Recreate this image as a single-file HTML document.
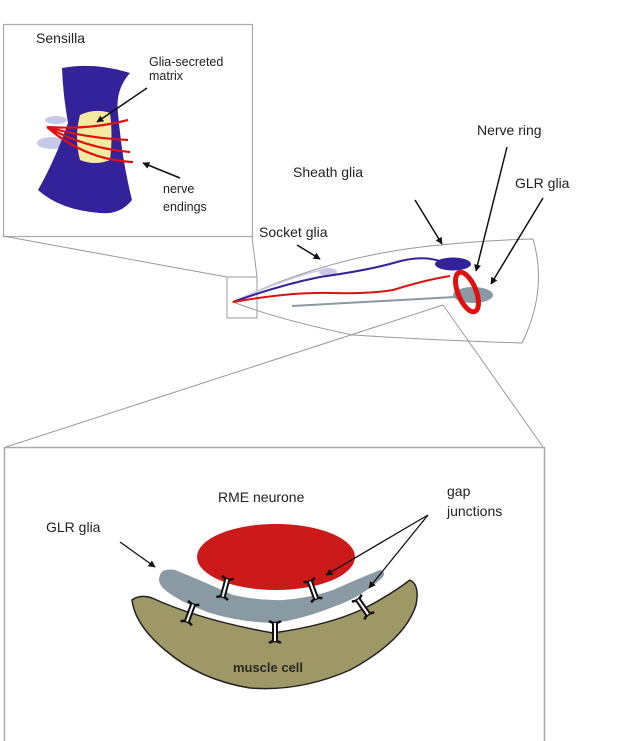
<!DOCTYPE html>
<html><head><meta charset="utf-8"><style>
html,body{margin:0;padding:0;background:#fff;}
svg{display:block;font-family:"Liberation Sans",Arial,sans-serif;}
</style></head><body>
<svg width="633" height="741" viewBox="0 0 633 741" xmlns="http://www.w3.org/2000/svg">
<defs>
<marker id="ah" viewBox="0 0 10 10" refX="9" refY="5" markerWidth="7" markerHeight="7" orient="auto" markerUnits="userSpaceOnUse">
<path d="M0,0 L10,5 L0,10 z" fill="#111"/></marker>
<g id="gj">
<path d="M-6,-11 Q0,-7 6,-11 M-6,11 Q0,7 6,11" stroke="#111" stroke-width="2.5" fill="none"/>
<rect x="-3" y="-9" width="6" height="18" fill="#111"/>
<rect x="-1" y="-9" width="2" height="18" fill="#fff"/>
</g>
</defs>
<!-- top box -->
<rect x="3.5" y="24.5" width="249" height="212" fill="none" stroke="#aaa" stroke-width="1.2"/>
<line x1="3" y1="236" x2="227" y2="277" stroke="#999" stroke-width="1"/>
<line x1="252" y1="237" x2="257" y2="277" stroke="#999" stroke-width="1"/>
<rect x="227" y="277" width="30" height="41" fill="none" stroke="#999" stroke-width="1"/>
<text x="36" y="43" font-size="14" fill="#222">Sensilla</text>
<text x="149" y="66" font-size="12.5" fill="#222">Glia-secreted</text>
<text x="149" y="80" font-size="12.5" fill="#222">matrix</text>
<text x="163" y="193" font-size="12.5" fill="#222">nerve</text>
<text x="163" y="211" font-size="12.5" fill="#222">endings</text>
<ellipse cx="56" cy="120" rx="11" ry="4" fill="#c8c8e8"/>
<ellipse cx="52" cy="143" rx="15" ry="6" fill="#c8c8e8"/>
<path d="M62,68 Q95,62 130,73 Q115,90 118,113 Q122,160 132,200 Q120,215 100,213 Q60,210 38,190 Q55,160 68,123 Q63,95 62,68 Z" fill="#33229a"/>
<path d="M80,115 Q95,108 110,113 Q113,135 110,160 Q95,166 80,160 Q74,138 80,115 Z" fill="#f6eaa0"/>
<g stroke="#e01010" stroke-width="2.2" fill="none">
<path d="M47,127 Q90,130 128,120"/>
<path d="M47,127 Q85,138 128,140"/>
<path d="M47,127 Q85,148 130,152"/>
<path d="M47,127 Q85,160 133,162"/>
</g>
<line x1="147" y1="88" x2="97" y2="122" stroke="#111" stroke-width="1.5" marker-end="url(#ah)"/>
<line x1="180" y1="178" x2="143" y2="163" stroke="#111" stroke-width="1.5" marker-end="url(#ah)"/>
<!-- worm -->
<path d="M233,302 Q330,255 440,245 Q490,240 533,239 Q548,290 522,343 Q430,340 353,335 Q280,320 233,302 Z" fill="none" stroke="#999" stroke-width="1"/>
<path d="M233,302 Q280,280 328,268" fill="none" stroke="#c8c8e8" stroke-width="1.5"/>
<ellipse cx="328" cy="272" rx="9" ry="4" fill="#c8c8e8"/>
<path d="M233,302 Q280,285 320,277 Q370,270 397,262 Q425,254 445,263" fill="none" stroke="#33229a" stroke-width="2"/>
<path d="M233,302 Q290,292 330,293 Q370,294 393,290 Q425,280 450,276" fill="none" stroke="#e01010" stroke-width="2"/>
<line x1="292" y1="306" x2="455" y2="297" stroke="#8a9aa5" stroke-width="2"/>
<ellipse cx="473" cy="295" rx="20" ry="8" fill="#8a9aa5"/>
<ellipse cx="467" cy="292" rx="9" ry="21" transform="rotate(-22 467 292)" fill="none" stroke="#e01010" stroke-width="5"/>
<ellipse cx="453" cy="264" rx="18" ry="6.5" fill="#33229a"/>
<text x="293" y="177" font-size="14" fill="#222">Sheath glia</text>
<text x="477" y="135" font-size="14" fill="#222">Nerve ring</text>
<text x="515" y="188" font-size="14" fill="#222">GLR glia</text>
<text x="259" y="237" font-size="14" fill="#222">Socket glia</text>
<line x1="297" y1="245" x2="320" y2="259" stroke="#111" stroke-width="1.5" marker-end="url(#ah)"/>
<line x1="415" y1="200" x2="442" y2="244" stroke="#111" stroke-width="1.5" marker-end="url(#ah)"/>
<line x1="507" y1="147" x2="476" y2="271" stroke="#111" stroke-width="1.5" marker-end="url(#ah)"/>
<line x1="543" y1="198" x2="491" y2="284" stroke="#111" stroke-width="1.5" marker-end="url(#ah)"/>
<!-- zoom lines -->
<line x1="6" y1="447" x2="443" y2="305" stroke="#999" stroke-width="1"/>
<line x1="443" y1="305" x2="543" y2="447" stroke="#999" stroke-width="1"/>
<!-- bottom box -->
<path d="M4.5,741 L4.5,447.5 L544.5,447.5 L544.5,741" fill="none" stroke="#aaa" stroke-width="1.5"/>
<text x="218" y="502" font-size="14" fill="#222">RME neurone</text>
<text x="46" y="532" font-size="14" fill="#222">GLR glia</text>
<text x="447" y="496" font-size="14" fill="#222">gap</text>
<text x="447" y="516" font-size="14" fill="#222">junctions</text>
<ellipse cx="276" cy="557" rx="79" ry="33" fill="#cc1a1a"/>
<!-- muscle -->
<path d="M132,600 Q140,594 152,598 Q200,620 273,633 Q330,625 365,608 Q390,595 410,580 Q420,585 416,605 Q405,640 350,670 Q300,692 250,688 Q200,680 165,650 Q135,625 132,600 Z" fill="#9e9866" stroke="#222" stroke-width="1.5"/>
<!-- glia band -->
<path d="M160,575 Q162,568 175,570 Q200,580 233,595 Q260,601 283,600 Q310,598 333,590 Q360,578 380,570 Q387,572 382,578 Q360,598 333,607 Q300,620 273,623 Q240,622 210,613 Q175,600 163,588 Q157,582 160,575 Z" fill="#8a9aa5"/>
<text x="268" y="672" font-size="13" font-weight="bold" fill="#2a2a20" text-anchor="middle">muscle cell</text>
<use href="#gj" transform="translate(225,588) rotate(15)"/>
<use href="#gj" transform="translate(313,590) rotate(-20)"/>
<use href="#gj" transform="translate(190,613) rotate(20)"/>
<use href="#gj" transform="translate(275,632)"/>
<use href="#gj" transform="translate(363,607) rotate(-35)"/>
<line x1="120" y1="542" x2="155" y2="567" stroke="#111" stroke-width="1.3" marker-end="url(#ah)"/>
<line x1="428" y1="515" x2="326" y2="575" stroke="#111" stroke-width="1.3" marker-end="url(#ah)"/>
<line x1="428" y1="515" x2="369" y2="588" stroke="#111" stroke-width="1.3" marker-end="url(#ah)"/>
</svg>
</body></html>
